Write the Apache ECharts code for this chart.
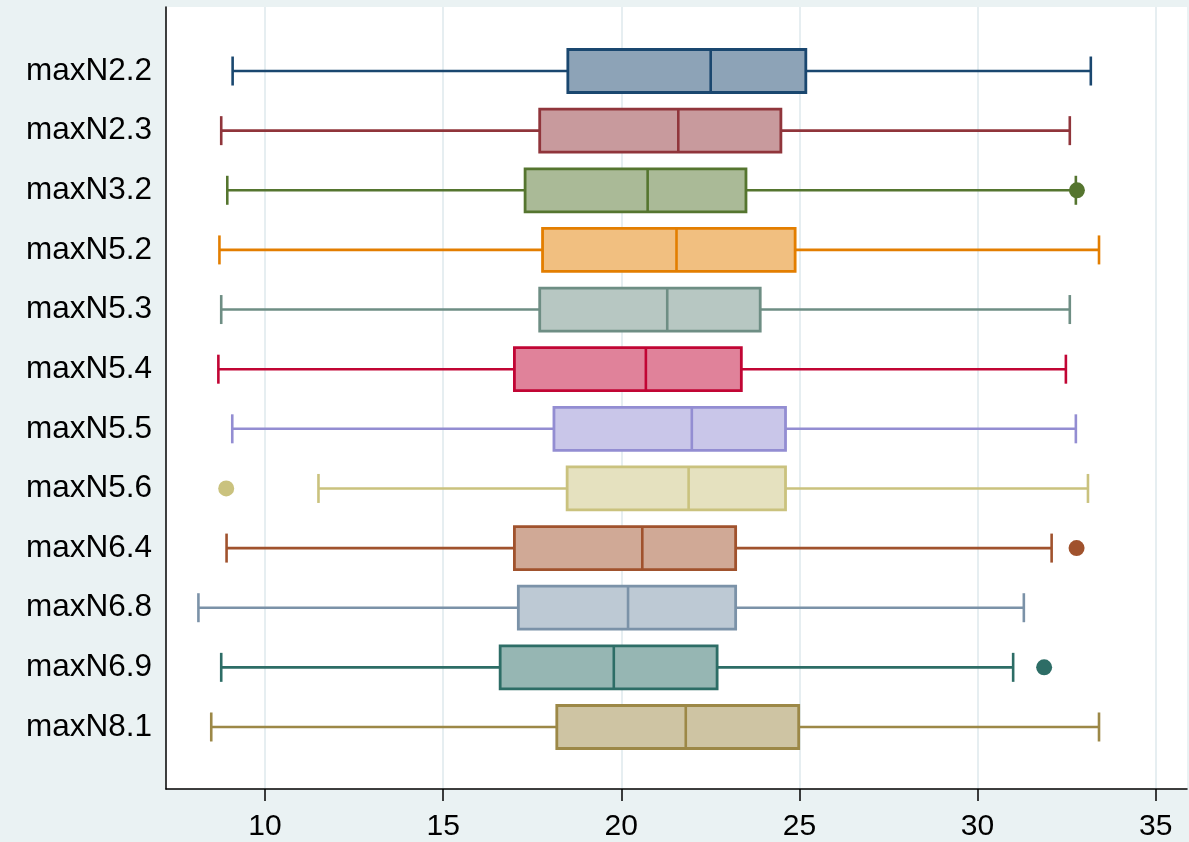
<!DOCTYPE html>
<html>
<head>
<meta charset="utf-8">
<script src="https://cdn.jsdelivr.net/npm/echarts@6/dist/echarts.min.js"></script>
<style>
html,body{margin:0;padding:0;background:#eaf2f3;}
#chart{width:1189px;height:842px;}
</style>
</head>
<body>
<div id="chart"></div>
<script>
// ---- data ----
const categories = ['maxN2.2','maxN2.3','maxN3.2','maxN5.2','maxN5.3','maxN5.4','maxN5.5','maxN5.6','maxN6.4','maxN6.8','maxN6.9','maxN8.1'];
const mins    = [9.09, 8.77, 8.94, 8.72, 8.77, 8.69, 9.08, 11.50, 8.92, 8.13, 8.77, 8.49];
const q1s     = [18.50, 17.71, 17.30, 17.79, 17.71, 17.00, 18.11, 18.48, 17.00, 17.11, 16.60, 18.19];
const medians = [22.51, 21.60, 20.74, 21.55, 21.29, 20.69, 21.98, 21.89, 20.59, 20.19, 19.79, 21.81];
const q3s     = [25.18, 24.48, 23.50, 24.88, 23.90, 23.37, 24.61, 24.61, 23.21, 23.21, 22.69, 24.98];
const maxs    = [33.18, 32.59, 32.76, 33.41, 32.59, 32.48, 32.76, 33.10, 32.08, 31.30, 31.00, 33.41];
const outlierRows   = [2, 7, 8, 10];
const outlierValues = [32.79, 8.91, 32.78, 31.87];
const xTicks = [10, 15, 20, 25, 30, 35];
const xMin = 7.22, xMax = 35.88;

// ---- styles ----
const lineColors = ['#1a476f','#90353b','#55752f','#e37e00','#6e8e84','#c10534','#938dd2','#cac27e','#a0522d','#7b92a8','#2d6d66','#9c8847'];
function lighten(hex){
  const n = parseInt(hex.slice(1),16);
  const r = Math.round(((n>>16)&255)/2+127.5), g = Math.round(((n>>8)&255)/2+127.5), b = Math.round((n&255)/2+127.5);
  return 'rgb('+r+','+g+','+b+')';
}
const fillColors = lineColors.map(lighten);
const FONT = '"Liberation Sans", Arial, Helvetica, sans-serif';

const boxData = categories.map((c,i)=>[i, mins[i], q1s[i], medians[i], q3s[i], maxs[i]]);
const outlierData = outlierRows.map((r,k)=>({value:[outlierValues[k], r], itemStyle:{color:lineColors[r], opacity:1}}));

const chart = echarts.init(document.getElementById('chart'), null, {renderer:'canvas'});
chart.setOption({
  backgroundColor:'#eaf2f3',
  animation:false,
  grid:[
    {left:166, right:2, top:7, bottom:51, show:true, backgroundColor:'#ffffff', borderWidth:0},
    {left:166, right:2, top:41.2, bottom:85.2}
  ],
  xAxis:[
    {gridIndex:0, type:'value', min:xMin, max:xMax,
     axisLine:{show:true, onZero:false, lineStyle:{color:'#000', width:1.5}},
     axisTick:{show:true, length:12, customValues:xTicks, lineStyle:{color:'#000', width:1.5}},
     axisLabel:{customValues:xTicks, fontSize:30, color:'#000', fontFamily:FONT, margin:23},
     splitLine:{show:true, lineStyle:{color:'#e6eef1', width:2}}},
    {gridIndex:1, type:'value', min:xMin, max:xMax, show:false, splitLine:{show:false}}
  ],
  yAxis:[
    {gridIndex:0, type:'value', min:0, max:1,
     axisLine:{show:true, lineStyle:{color:'#000', width:1.5}},
     axisTick:{show:false}, axisLabel:{show:false}, splitLine:{show:false}},
    {gridIndex:1, type:'category', data:categories, inverse:true,
     axisLine:{show:false}, axisTick:{show:false}, splitLine:{show:false},
     axisLabel:{fontSize:31.5, color:'#000', fontFamily:FONT, margin:14, padding:[6,0,0,0]}}
  ],
  series:[
    {type:'custom', xAxisIndex:1, yAxisIndex:1, data:boxData,
     encode:{x:[1,2,3,4,5], y:0},
     renderItem:function(params, api){
       const i = api.value(0);
       const col = lineColors[params.dataIndex], fill = fillColors[params.dataIndex];
       const pMin = api.coord([api.value(1), i]);
       const pQ1 = api.coord([api.value(2), i]);
       const pMed = api.coord([api.value(3), i]);
       const pQ3 = api.coord([api.value(4), i]);
       const pMax = api.coord([api.value(5), i]);
       const y = pMin[1];
       const bh = 21.5, ch = 14.5;
       const ls = {stroke:col, lineWidth:2.6, fill:null};
       return {type:'group', children:[
         {type:'line', shape:{x1:pMin[0], y1:y, x2:pQ1[0], y2:y}, style:ls},
         {type:'line', shape:{x1:pQ3[0], y1:y, x2:pMax[0], y2:y}, style:ls},
         {type:'line', shape:{x1:pMin[0], y1:y-ch, x2:pMin[0], y2:y+ch}, style:ls},
         {type:'line', shape:{x1:pMax[0], y1:y-ch, x2:pMax[0], y2:y+ch}, style:ls},
         {type:'rect', shape:{x:pQ1[0], y:y-bh, width:pQ3[0]-pQ1[0], height:2*bh}, style:{fill:fill, stroke:col, lineWidth:2.8}},
         {type:'line', shape:{x1:pMed[0], y1:y-bh, x2:pMed[0], y2:y+bh}, style:ls}
       ]};
     }
    },
    {type:'scatter', xAxisIndex:1, yAxisIndex:1, data:outlierData, symbol:'circle', symbolSize:16, z:5}
  ]
});
</script>
</body>
</html>
